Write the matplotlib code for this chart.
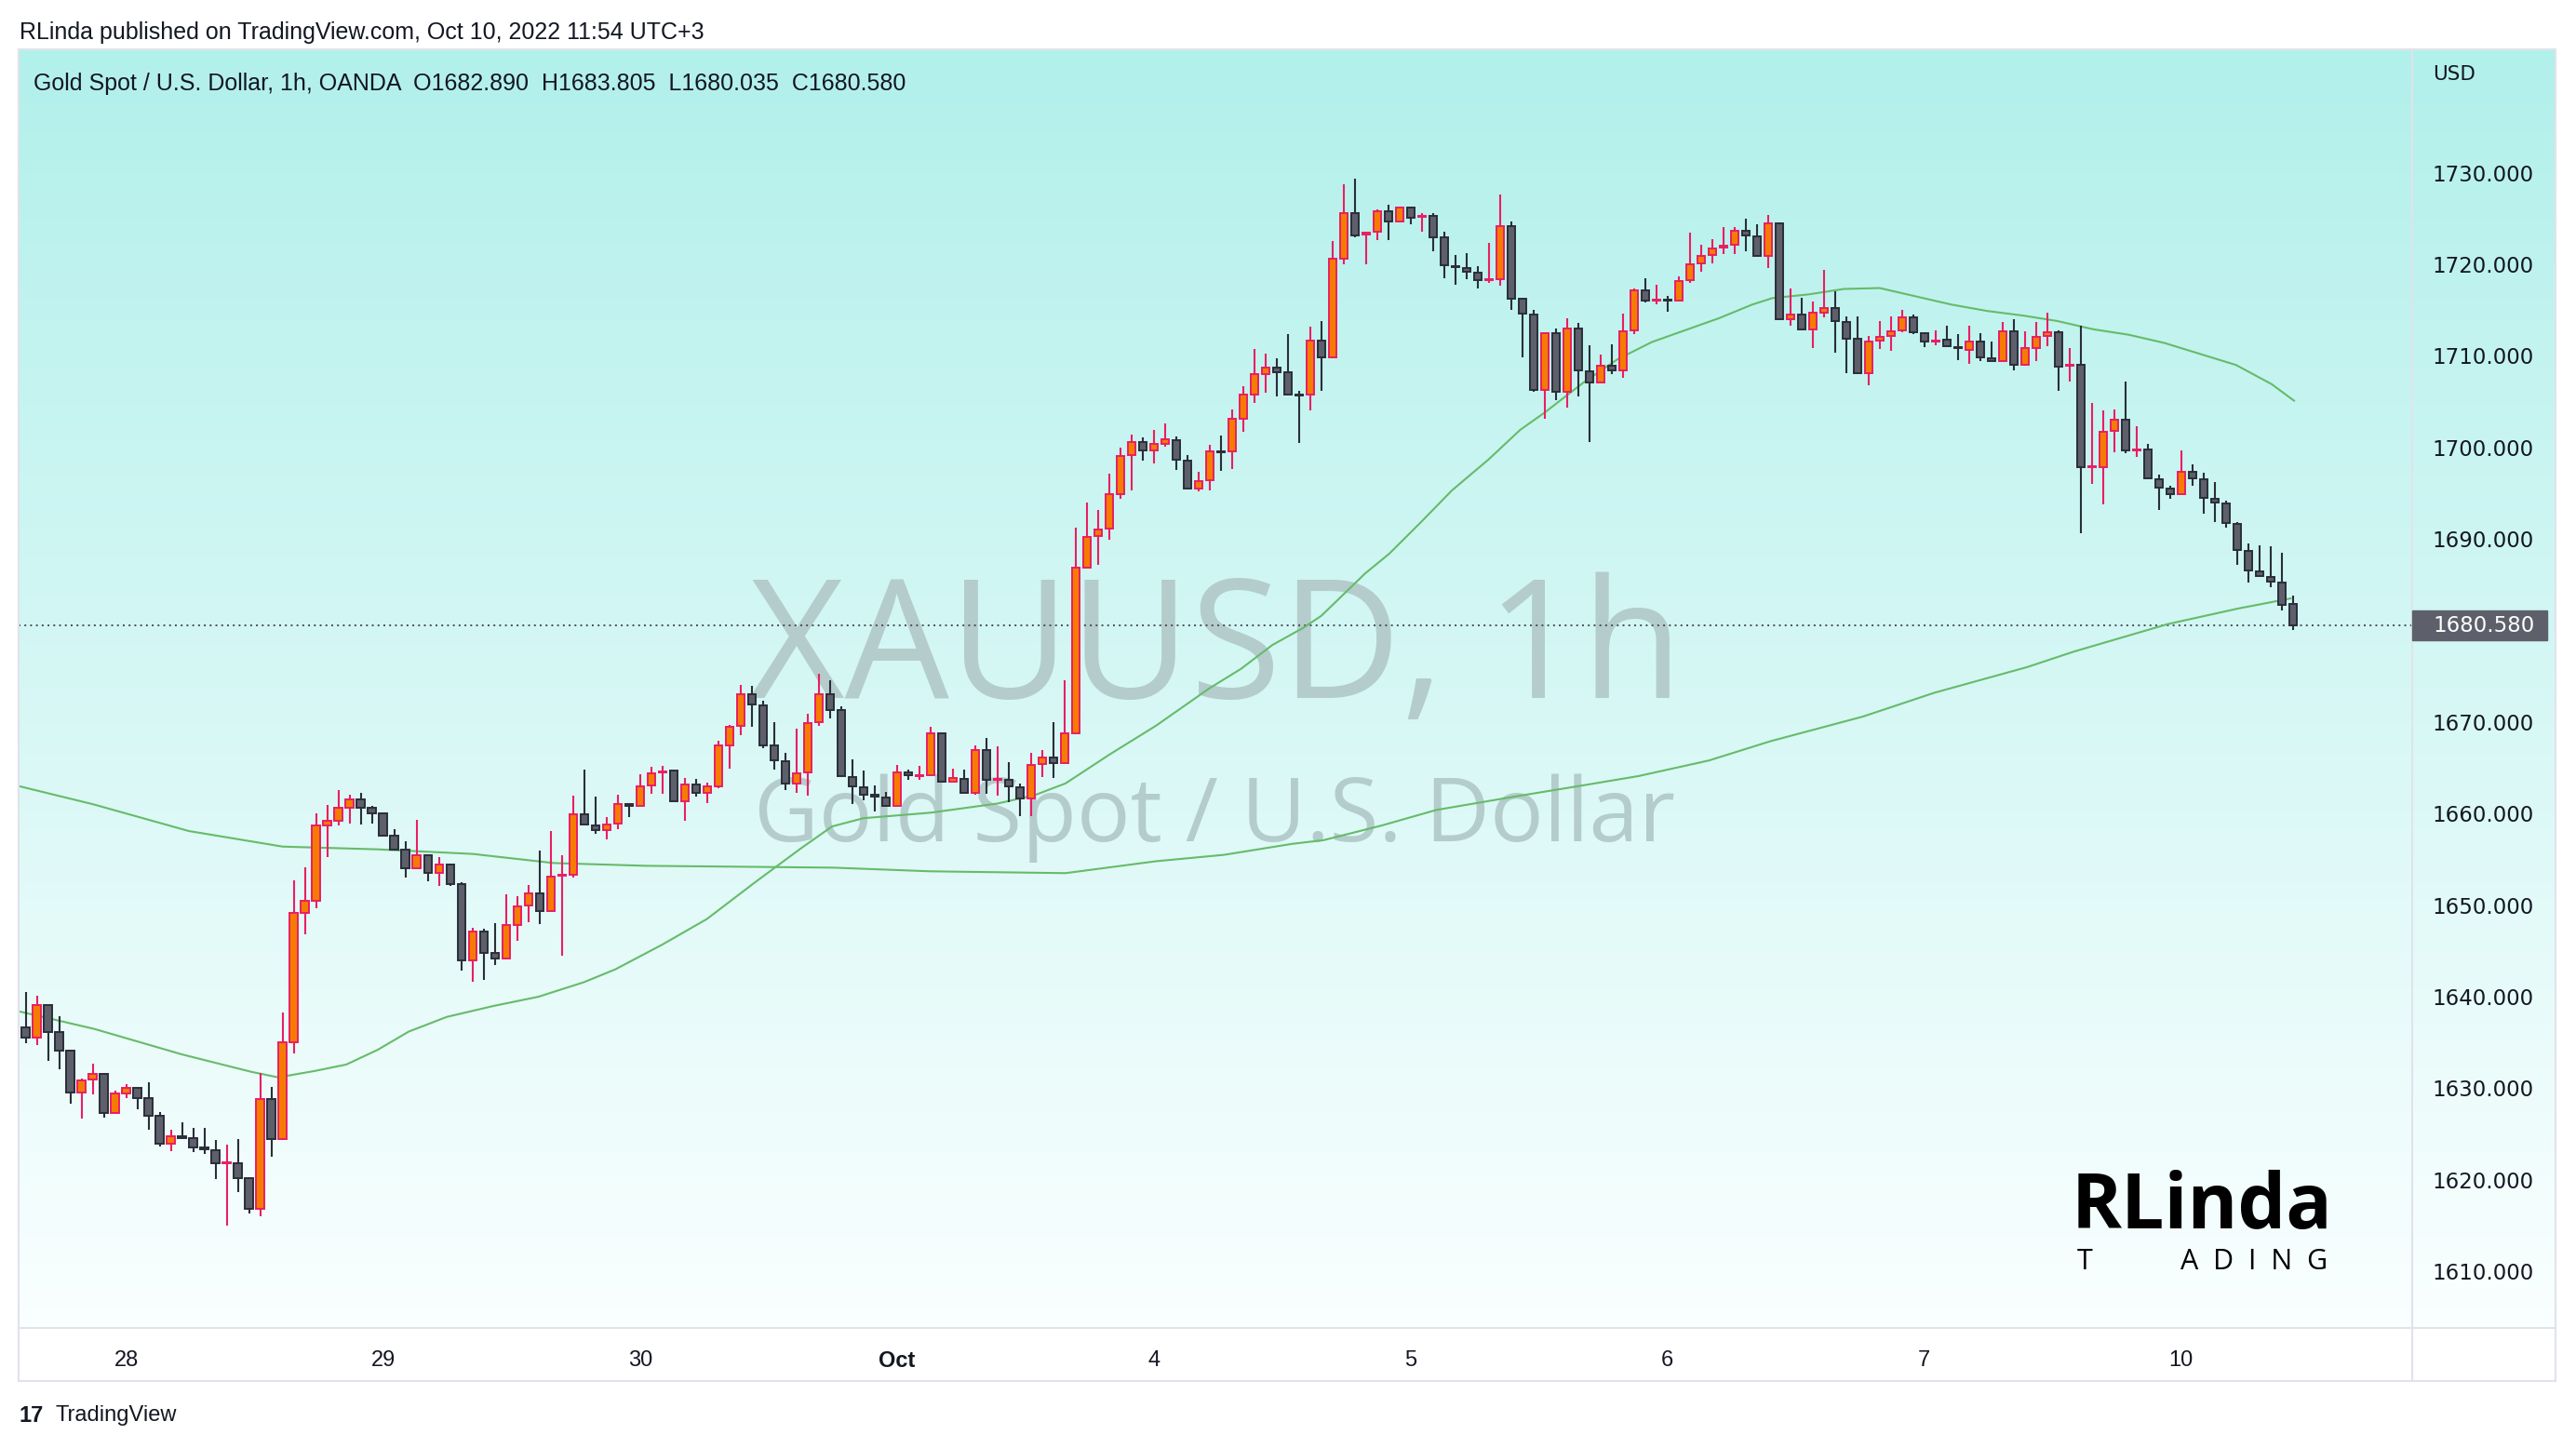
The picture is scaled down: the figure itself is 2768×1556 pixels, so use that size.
import numpy as np
import matplotlib.pyplot as plt
from matplotlib.patches import Rectangle

# --- data, one 1h bar per entry, first bar = Sep 27 15:00 ---
opens = [1636.7, 1635.5, 1639.1, 1636.1, 1634.1, 1629.5, 1631.0, 1631.6, 1627.3, 1629.4,
         1630.0, 1628.9, 1627.0, 1624.0, 1624.8, 1624.6, 1623.5, 1623.2, 1621.8, 1621.8,
         1620.2, 1616.8, 1628.8, 1624.5, 1635.0, 1649.2, 1650.5, 1658.7, 1659.2, 1660.6,
         1661.6, 1660.6, 1660.0, 1657.6, 1656.1, 1654.0, 1655.5, 1653.5, 1654.4, 1652.3,
         1644.0, 1647.1, 1644.8, 1644.2, 1647.8, 1650.0, 1651.3, 1649.4, 1653.2, 1653.3,
         1659.9, 1658.7, 1658.2, 1658.9, 1661.0, 1660.8, 1663.1, 1664.5, 1664.7, 1661.4,
         1663.2, 1662.3, 1663.0, 1667.5, 1669.6, 1673.0, 1671.8, 1667.5, 1665.7, 1663.3,
         1664.5, 1670.0, 1673.0, 1671.3, 1664.0, 1662.9, 1662.1, 1661.8, 1660.8, 1664.5,
         1664.1, 1664.2, 1668.8, 1663.5, 1663.8, 1662.3, 1666.9, 1663.7, 1663.7, 1662.9,
         1661.7, 1665.4, 1666.1, 1665.5, 1668.8, 1686.9, 1690.3, 1691.1, 1694.9, 1699.2,
         1700.6, 1699.7, 1700.4, 1700.8, 1698.6, 1695.5, 1696.4, 1699.6, 1699.6, 1703.1,
         1705.8, 1708.0, 1708.7, 1708.2, 1705.8, 1705.8, 1711.7, 1709.8, 1720.6, 1725.6,
         1723.2, 1723.5, 1725.8, 1724.7, 1726.2, 1725.2, 1725.3, 1722.9, 1719.8, 1719.6,
         1719.1, 1718.3, 1718.4, 1724.2, 1716.2, 1714.5, 1706.3, 1712.5, 1706.1, 1713.0,
         1708.3, 1707.1, 1708.9, 1708.4, 1712.8, 1717.1, 1716.0, 1716.1, 1716.0, 1718.3,
         1720.1, 1721.0, 1721.8, 1722.1, 1723.7, 1723.0, 1720.9, 1724.5, 1714.0, 1714.5,
         1712.9, 1714.7, 1715.2, 1713.7, 1711.9, 1708.1, 1711.7, 1712.2, 1712.8, 1714.2,
         1712.5, 1711.6, 1711.8, 1710.9, 1710.6, 1711.6, 1709.7, 1709.4, 1712.7, 1709.0,
         1710.8, 1712.2, 1712.6, 1708.9, 1709.0, 1697.8, 1697.8, 1701.8, 1703.0, 1699.7,
         1699.8, 1696.5, 1695.5, 1694.9, 1697.3, 1696.5, 1694.4, 1693.9, 1691.6, 1688.7,
         1686.5, 1685.8, 1685.2, 1682.89]
highs = [1640.5, 1640.1, 1639.1, 1637.9, 1634.2, 1631.1, 1632.7, 1631.7, 1629.7, 1630.5,
         1630.0, 1630.7, 1627.4, 1625.5, 1626.3, 1625.7, 1625.7, 1624.4, 1623.9, 1624.5,
         1620.3, 1631.7, 1630.2, 1638.3, 1652.7, 1654.1, 1660.0, 1660.9, 1662.6, 1662.1,
         1662.3, 1660.8, 1660.0, 1658.3, 1657.0, 1659.3, 1655.5, 1655.3, 1654.5, 1652.5,
         1647.5, 1647.4, 1648.0, 1651.2, 1651.0, 1652.2, 1656.0, 1658.1, 1655.5, 1662.0,
         1664.8, 1661.9, 1659.6, 1662.1, 1661.0, 1664.3, 1665.1, 1665.2, 1664.8, 1663.9,
         1663.8, 1663.4, 1668.0, 1669.7, 1674.1, 1674.0, 1672.3, 1670.0, 1666.6, 1669.3,
         1670.9, 1675.3, 1674.6, 1671.7, 1665.9, 1664.7, 1663.1, 1662.4, 1665.3, 1664.8,
         1665.2, 1669.5, 1668.8, 1664.9, 1664.8, 1667.5, 1668.3, 1667.3, 1665.6, 1663.3,
         1666.6, 1666.9, 1670.0, 1674.6, 1691.2, 1694.0, 1693.2, 1697.1, 1700.0, 1701.4,
         1701.1, 1701.9, 1702.6, 1701.2, 1699.2, 1697.3, 1700.3, 1701.3, 1704.1, 1706.7,
         1710.7, 1710.2, 1709.7, 1712.4, 1706.2, 1713.2, 1713.8, 1722.5, 1728.7, 1729.3,
         1723.6, 1726.0, 1726.5, 1726.2, 1726.2, 1725.6, 1725.6, 1723.6, 1721.0, 1721.2,
         1719.8, 1722.3, 1727.6, 1724.7, 1716.3, 1715.0, 1712.5, 1713.0, 1714.1, 1713.6,
         1711.2, 1710.1, 1711.3, 1714.6, 1717.4, 1718.5, 1717.8, 1716.5, 1718.7, 1723.4,
         1722.1, 1722.7, 1724.1, 1724.1, 1725.0, 1724.4, 1725.4, 1724.6, 1717.4, 1716.3,
         1715.9, 1719.4, 1717.0, 1714.3, 1714.3, 1712.2, 1713.8, 1714.3, 1715.0, 1714.5,
         1712.5, 1712.8, 1713.3, 1712.4, 1713.3, 1712.5, 1711.6, 1713.7, 1714.0, 1712.7,
         1713.7, 1714.7, 1712.8, 1710.8, 1713.3, 1704.9, 1704.0, 1704.1, 1707.2, 1702.3,
         1700.4, 1697.0, 1695.8, 1699.7, 1698.1, 1697.2, 1696.2, 1694.2, 1691.8, 1689.5,
         1689.3, 1689.2, 1688.5, 1683.805]
lows = [1634.9, 1634.7, 1633.0, 1632.1, 1628.3, 1626.7, 1629.3, 1626.8, 1627.3, 1628.9,
        1627.7, 1625.5, 1623.6, 1623.1, 1624.5, 1623.0, 1622.8, 1620.1, 1615.0, 1618.7,
        1616.3, 1616.0, 1622.5, 1624.4, 1633.8, 1646.8, 1649.7, 1655.3, 1658.7, 1658.9,
        1658.8, 1658.9, 1657.6, 1656.1, 1653.0, 1654.0, 1652.6, 1652.1, 1652.1, 1642.9,
        1641.6, 1641.8, 1643.5, 1644.2, 1646.1, 1648.1, 1647.9, 1649.4, 1644.5, 1653.0,
        1658.8, 1657.8, 1657.2, 1658.3, 1659.6, 1660.8, 1662.2, 1662.2, 1661.4, 1659.2,
        1661.9, 1661.2, 1662.8, 1664.9, 1668.6, 1669.5, 1667.1, 1664.8, 1662.6, 1662.3,
        1662.0, 1669.6, 1670.4, 1664.1, 1661.0, 1661.5, 1660.2, 1660.7, 1660.8, 1663.7,
        1663.7, 1664.2, 1663.5, 1663.5, 1662.3, 1662.1, 1662.2, 1662.0, 1661.3, 1659.7,
        1659.7, 1664.0, 1663.9, 1665.5, 1668.8, 1686.9, 1687.2, 1689.9, 1694.4, 1695.3,
        1698.6, 1698.2, 1700.1, 1697.5, 1695.5, 1695.2, 1695.3, 1697.4, 1697.6, 1701.7,
        1704.9, 1706.0, 1705.6, 1705.8, 1700.5, 1704.0, 1706.2, 1709.8, 1720.0, 1722.9,
        1720.0, 1722.6, 1722.6, 1724.7, 1724.4, 1723.6, 1721.4, 1718.5, 1717.8, 1718.4,
        1717.4, 1718.0, 1717.7, 1715.0, 1709.8, 1706.1, 1703.1, 1705.2, 1704.3, 1705.6,
        1700.6, 1707.0, 1708.0, 1707.6, 1712.4, 1715.8, 1715.6, 1714.8, 1716.0, 1718.0,
        1719.2, 1720.1, 1721.1, 1721.1, 1721.4, 1720.9, 1719.6, 1714.0, 1713.3, 1712.8,
        1710.8, 1714.2, 1710.3, 1708.1, 1708.1, 1706.8, 1710.7, 1710.5, 1712.6, 1712.4,
        1710.9, 1711.2, 1710.9, 1709.5, 1709.1, 1709.4, 1709.4, 1709.4, 1708.4, 1708.9,
        1709.4, 1711.0, 1706.2, 1707.2, 1690.6, 1696.0, 1693.8, 1699.5, 1699.4, 1699.0,
        1696.6, 1693.2, 1694.4, 1694.9, 1695.8, 1692.8, 1691.8, 1691.2, 1687.2, 1685.2,
        1685.8, 1684.7, 1682.2, 1680.035]
closes = [1635.5, 1639.1, 1636.1, 1634.1, 1629.5, 1630.9, 1631.6, 1627.3, 1629.4, 1630.0,
          1628.9, 1627.0, 1624.0, 1624.8, 1624.6, 1623.5, 1623.3, 1621.8, 1621.9, 1620.2,
          1616.8, 1628.8, 1624.5, 1635.0, 1649.2, 1650.5, 1658.7, 1659.2, 1660.6, 1661.6,
          1660.6, 1660.0, 1657.6, 1656.1, 1654.0, 1655.5, 1653.5, 1654.4, 1652.3, 1644.0,
          1647.1, 1644.8, 1644.2, 1647.8, 1649.9, 1651.3, 1649.4, 1653.1, 1653.3, 1659.9,
          1658.8, 1658.2, 1658.8, 1661.0, 1660.8, 1663.0, 1664.4, 1664.6, 1661.4, 1663.2,
          1662.3, 1663.0, 1667.5, 1669.5, 1673.0, 1671.9, 1667.5, 1665.8, 1663.3, 1664.4,
          1669.9, 1673.0, 1671.3, 1664.1, 1663.0, 1662.1, 1661.9, 1660.8, 1664.5, 1664.2,
          1664.2, 1668.8, 1663.5, 1663.9, 1662.3, 1666.9, 1663.7, 1663.8, 1663.0, 1661.7,
          1665.3, 1666.1, 1665.5, 1668.8, 1686.9, 1690.2, 1691.0, 1694.9, 1699.1, 1700.6,
          1699.7, 1700.4, 1700.9, 1698.7, 1695.5, 1696.3, 1699.6, 1699.5, 1703.1, 1705.8,
          1708.0, 1708.7, 1708.2, 1705.8, 1705.7, 1711.7, 1709.8, 1720.6, 1725.6, 1723.1,
          1723.4, 1725.8, 1724.7, 1726.2, 1725.1, 1725.3, 1722.9, 1719.9, 1719.7, 1719.2,
          1718.3, 1718.4, 1724.2, 1716.2, 1714.6, 1706.3, 1712.5, 1706.1, 1713.0, 1708.4,
          1707.1, 1708.9, 1708.4, 1712.7, 1717.1, 1716.0, 1716.1, 1716.0, 1718.2, 1720.0,
          1720.9, 1721.7, 1722.0, 1723.7, 1723.1, 1720.9, 1724.5, 1714.0, 1714.5, 1712.9,
          1714.7, 1715.2, 1713.8, 1711.9, 1708.1, 1711.6, 1712.1, 1712.7, 1714.2, 1712.6,
          1711.6, 1711.7, 1711.0, 1710.8, 1711.6, 1709.8, 1709.4, 1712.7, 1709.0, 1710.8,
          1712.1, 1712.6, 1708.8, 1709.0, 1697.8, 1697.9, 1701.7, 1703.0, 1699.7, 1699.8,
          1696.6, 1695.6, 1694.9, 1697.3, 1696.6, 1694.5, 1694.0, 1691.7, 1688.8, 1686.6,
          1685.9, 1685.3, 1682.8, 1680.58]

# moving averages (bar index, price)
fast_x = [-0.6, 6.1, 14, 20.2, 22.6, 25.9, 28.7, 31.5, 34.3, 37.7, 41.9, 45.9, 50, 52.8,
          57, 61, 65.3, 69.4, 72.2, 75, 81, 87, 90.3, 93.1, 97.1, 101.2, 106, 108.8,
          111.6, 114.4, 116.0, 117.7, 119.9, 122.1, 124.9, 127.7, 131.0, 133.8, 136.0,
          139.5, 142.5, 145.6, 148.6, 151.6, 154.6, 156.4, 159.6, 162.8, 166, 169.2,
          172.4, 175.6, 178.8, 181.9, 185.1, 188.3, 191.5, 194.7, 197.9, 201.1, 203.1]
fast_y = [1638.4, 1636.5, 1633.7, 1631.8, 1631.2, 1631.9, 1632.6, 1634.2, 1636.2, 1637.8,
          1639.0, 1640.0, 1641.6, 1643.0, 1645.7, 1648.5, 1652.5, 1656.2, 1658.6, 1659.5,
          1660.1, 1661.1, 1662.0, 1663.3, 1666.5, 1669.6, 1673.7, 1675.8, 1678.4, 1680.3,
          1681.6, 1683.6, 1686.2, 1688.4, 1691.8, 1695.3, 1698.7, 1701.9, 1703.8, 1707.1,
          1709.6, 1711.5, 1712.8, 1714.1, 1715.6, 1716.3, 1716.7, 1717.3, 1717.4, 1716.5,
          1715.6, 1714.9, 1714.4, 1713.8, 1712.9, 1712.3, 1711.4, 1710.2, 1709.0, 1706.9,
          1705.1]
slow_x = [-0.6, 6.1, 14.6, 23, 31.5, 40, 47.3, 55.6, 64, 72.3, 81, 93.1, 101.2, 107.3,
          113.4, 116.2, 121.4, 126.3, 133.5, 139.5, 144.4, 150.7, 156.2, 164.5, 170.9,
          179.2, 183.4, 187.6, 191.8, 198.1, 202.8]
slow_y = [1663.0, 1661.0, 1658.1, 1656.4, 1656.1, 1655.6, 1654.6, 1654.3, 1654.2, 1654.1,
          1653.7, 1653.5, 1654.8, 1655.5, 1656.7, 1657.1, 1658.7, 1660.4, 1661.9, 1663.1,
          1664.1, 1665.8, 1667.9, 1670.6, 1673.2, 1676.0, 1677.7, 1679.2, 1680.7, 1682.4,
          1683.5]

day_pos = [9, 32, 55, 78, 101, 124, 147, 170, 193]
day_labels = ["28", "29", "30", "Oct", "4", "5", "6", "7", "10"]
# 1680 is hidden behind the last-price label in the reference
price_ticks = [1610, 1620, 1630, 1640, 1650, 1660, 1670, 1690, 1700, 1710, 1720, 1730]
last_price = 1680.58

W, H = 2768, 1556


def rect(l, t, r, b):
    return [l / W, 1 - b / H, (r - l) / W, (b - t) / H]


plt.rcParams['font.family'] = ['Liberation Sans', 'DejaVu Sans']
fig = plt.figure(figsize=(W / 100, H / 100), dpi=100)
fig.patch.set_facecolor('white')

# gradient background behind plot + price scale
bg = fig.add_axes(rect(20, 53, 2746, 1427))
top = np.array([178, 240, 235]) / 255
bot = np.array([250, 255, 255]) / 255
t = np.linspace(0, 1, 256)[:, None]
grad = top[None, None, :] * (1 - t[:, :, None]) + bot[None, None, :] * t[:, :, None]
bg.imshow(grad, aspect='auto', extent=[0, 1, 0, 1])
bg.set_axis_off()

ax = fig.add_axes(rect(20, 53, 2591, 1427))
ax.set_facecolor('none')
ax.set_xlim(-0.64, 213.6)
ax.set_ylim(1603.83, 1743.47)
for s in ax.spines.values():
    s.set_visible(False)

# watermark
ax.text(0.472, 1 - 750 / H, "XAUUSD, 1h", transform=fig.transFigure, ha='center',
        va='baseline', fontsize=128, color='#b4cccc', family='Open Sans', zorder=0)
ax.text(0.4713, 1 - 904 / H, "Gold Spot / U.S. Dollar", transform=fig.transFigure,
        ha='center', va='baseline', fontsize=69, color='#b4cccc', family='Open Sans', zorder=0)

# moving averages
ax.plot(slow_x, slow_y, color='#66bb6a', lw=1.5, zorder=2)
ax.plot(fast_x, fast_y, color='#66bb6a', lw=1.5, zorder=2)

# candles
o = np.array(opens)
c = np.array(closes)
hi = np.array(highs)
lo = np.array(lows)
x = np.arange(len(o))
up = c >= o
edge = np.where(up, '#e91e63', '#2a2e39')
body = np.where(up, '#f57c00', '#5d606b')
ax.vlines(x, lo, hi, colors=edge, lw=1.5, zorder=3)
ax.bar(x, np.maximum(np.abs(c - o), 0.08), bottom=np.minimum(o, c), width=0.7,
       color=body, edgecolor=edge, linewidth=1.4, zorder=4)

# last price dotted line
ax.axhline(last_price, color='#4a4e5a', lw=1.4, ls=(0, (1, 2.2)), zorder=1)

# price scale
ax.yaxis.tick_right()
ax.set_yticks(price_ticks)
ax.set_yticklabels([f"{p:.3f}" for p in price_ticks], family='DejaVu Sans')
ax.tick_params(axis='y', length=0, pad=16, labelsize=16.5, labelcolor='#131722')
ax.set_xticks(day_pos)
ax.set_xticklabels(day_labels)
ax.tick_params(axis='x', length=0, pad=17, labelsize=17, labelcolor='#131722')
for lab in ax.get_xticklabels():
    if lab.get_text() == "Oct":
        lab.set_fontweight('bold')

fig.text(2614 / W, 1 - 80 / H, "USD", fontsize=15.5, color='#131722', va='center',
         family='DejaVu Sans')
fig.patches.append(Rectangle((2592 / W, 1 - 688 / H), 145 / W, 32 / H,
                             transform=fig.transFigure, color='#5d606b', zorder=5))
fig.text(2614 / W, 1 - 672 / H, f"{last_price:.3f}", fontsize=16.5, color='white',
         va='center', family='DejaVu Sans', zorder=6)

# frame lines
line_kw = dict(transform=fig.transFigure, color='#e0e3eb', lw=1.5)
fig.add_artist(plt.Line2D([20 / W, 2746 / W], [1 - 53 / H, 1 - 53 / H], **line_kw))
fig.add_artist(plt.Line2D([20 / W, 2746 / W], [1 - 1427 / H, 1 - 1427 / H], **line_kw))
fig.add_artist(plt.Line2D([20 / W, 2746 / W], [1 - 1484 / H, 1 - 1484 / H], **line_kw))
fig.add_artist(plt.Line2D([2592 / W, 2592 / W], [1 - 53 / H, 1 - 1484 / H], **line_kw))
fig.add_artist(plt.Line2D([2746 / W, 2746 / W], [1 - 53 / H, 1 - 1484 / H], **line_kw))
fig.add_artist(plt.Line2D([20 / W, 20 / W], [1 - 53 / H, 1 - 1484 / H], **line_kw))

# header texts
fig.text(21 / W, 1 - 35 / H, "RLinda published on TradingView.com, Oct 10, 2022 11:54 UTC+3",
         fontsize=18, color='#131722', va='center')
fig.text(36 / W, 1 - 90 / H,
         "Gold Spot / U.S. Dollar, 1h, OANDA  O1682.890  H1683.805  L1680.035  C1680.580",
         fontsize=18, color='#131722', va='center')

# logo
fig.text(2226 / W, 1 - 1320 / H, "RLinda", fontsize=59, fontweight='bold', family='Open Sans',
         color='black', va='baseline')
fig.text(2232 / W, 1 - 1364 / H, "T", fontsize=22, family='Open Sans', color='black',
         va='baseline')
fig.text(2343 / W, 1 - 1364 / H, "A  D  I  N  G", fontsize=22, family='Open Sans',
         color='black', va='baseline')

# footer
fig.text(21 / W, 1 - 1521 / H, "17", fontsize=17, fontweight='bold', color='#131722',
         va='center')
fig.text(60 / W, 1 - 1521 / H, "TradingView", fontsize=17, color='#131722', va='center')

fig.savefig("out.png", dpi=100)
